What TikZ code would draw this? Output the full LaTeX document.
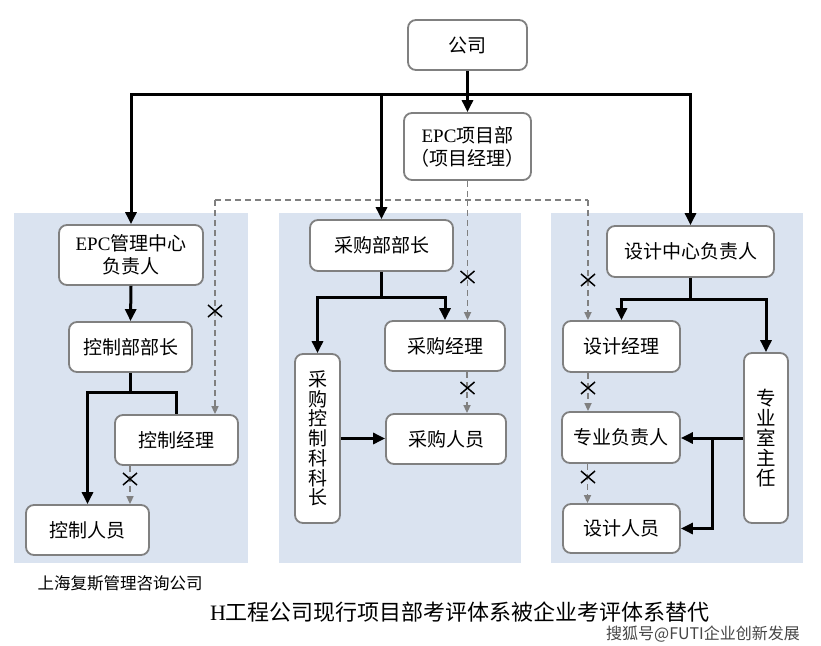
\documentclass[tikz,border=0pt]{standalone}
\usepackage{fontspec}
\setmainfont{Noto Sans CJK SC}
\newfontfamily\lat{Liberation Serif}
\usetikzlibrary{arrows.meta}
\definecolor{panelc}{RGB}{218,227,240}
\definecolor{bord}{RGB}{128,128,128}
\begin{document}
\begin{tikzpicture}[x=1pt,y=-1pt,
  box/.style={draw=bord, line width=1.8pt, rounded corners=8pt, fill=white, inner sep=0pt, align=center, font=\fontsize{19}{23}\selectfont},
  panel/.style={fill=panelc, draw=none},
  ln/.style={line width=3pt},
  arr/.style={line width=3pt, -{Triangle[length=12pt,width=11pt]}},
  dln/.style={draw=bord, line width=1.6pt, dash pattern=on 6pt off 4pt},
  darr/.style={dln, -{Triangle[length=8pt,width=7pt]}, bord},
  xmk/.pic={\draw[line width=1.5pt,black] (-7,-6)--(7,6) (-7,6)--(7,-6);}
]
\useasboundingbox[fill=white] (0,0) rectangle (821,645);
% panels
\fill[panel] (14,213) rectangle (248,563);
\fill[panel] (279,213) rectangle (521,563);
\fill[panel] (551,213) rectangle (803,563);
% nodes
\node[box, minimum width=119pt, minimum height=50pt] (gs) at (467.5,45) {公司};
\node[box, minimum width=127pt, minimum height=67pt] (epc) at (467.5,146.5) {{\lat EPC}项目部\\（项目经理）};
\node[box, minimum width=144pt, minimum height=60pt] (epcm) at (131,255) {{\lat EPC}管理中心\\负责人};
\node[box, minimum width=123pt, minimum height=50pt] (ctlh) at (130.5,347) {控制部部长};
\node[box, minimum width=123pt, minimum height=50pt] (ctlm) at (176.5,440) {控制经理};
\node[box, minimum width=123pt, minimum height=50pt] (ctls) at (87.5,530) {控制人员};
\node[box, minimum width=143pt, minimum height=51pt] (purh) at (381.5,245.5) {采购部部长};
\node[box, minimum width=120pt, minimum height=50pt] (purm) at (445,346) {采购经理};
\node[box, minimum width=120pt, minimum height=50pt] (purs) at (446,439) {采购人员};
\node[box, minimum width=45pt, minimum height=169pt, font=\fontsize{19}{19.7}\selectfont] (purc) at (317.5,438.5) {采\\购\\控\\制\\科\\科\\长};
\node[box, minimum width=167pt, minimum height=51pt] (desh) at (690.5,251.5) {设计中心负责人};
\node[box, minimum width=117pt, minimum height=51pt] (desm) at (621.5,346.5) {设计经理};
\node[box, minimum width=118pt, minimum height=51pt] (desr) at (621,437.5) {专业负责人};
\node[box, minimum width=117pt, minimum height=49pt] (dess) at (621.5,528.5) {设计人员};
\node[box, minimum width=44pt, minimum height=170pt, font=\fontsize{19.5}{19.8}\selectfont] (desd) at (766,438) {专\\业\\室\\主\\任};
% dashed connectors
\coordinate (dj) at (467.5,200);
\coordinate (dl) at (215,200);
\coordinate (dr) at (588,200);
\draw[dln] (epc.south) -- (dj);
\draw[dln] (dl) -- (dr);
\draw[darr] (dj) -- (dj |- purm.north);
\draw[darr] (dl) -- (dl |- ctlm.north);
\draw[darr] (dr) -- (dr |- desm.north);
\draw[darr] ([xshift=-46.5pt]ctlm.south) -- ([xshift=-46.5pt]ctlm.south |- ctls.north);
\draw[darr] ([xshift=22pt]purm.south) -- ([xshift=22pt]purm.south |- purs.north);
\draw[darr] ([xshift=-33.5pt]desm.south) -- ([xshift=-33.5pt]desm.south |- desr.north);
\draw[darr] ([xshift=-33.5pt]desr.south) -- ([xshift=-33.5pt]desr.south |- dess.north);
% X marks
\pic at (215,311) {xmk};
\pic at (130,479) {xmk};
\pic at (467.5,277) {xmk};
\pic at (467.5,388) {xmk};
\pic at (588,280) {xmk};
\pic at (588,388) {xmk};
\pic at (588,477) {xmk};
% solid connectors
\coordinate (bus) at (467.5,94);
\draw[arr] (gs.south) -- (epc.north);
\draw[arr] (bus) -| (epcm.north);
\draw[arr] (bus) -| (purh.north);
\draw[arr] (bus) -| (desh.north);
% panel 1
\draw[arr] (epcm.south) -- (ctlh.north);
\draw[ln] (ctlh.south) -- ++(0,20) coordinate (j1);
\draw[arr] (j1) -| (ctls.north);
\draw[ln] (j1) -| (ctlm.north);
% panel 2
\draw[ln] (purh.south) -- ++(0,26) coordinate (j2);
\draw[arr] (j2) -| (purc.north);
\draw[arr] (j2) -| (purm.north);
\draw[arr] (purc.east) -- (purc.east -| purs.west);
% panel 3
\draw[ln] (desh.south) -- ++(0,22) coordinate (j3);
\draw[arr] (j3) -| (desm.north);
\draw[arr] (j3) -| (desd.north);
\draw[arr] (desd.west) -- (desd.west -| desr.east);
\coordinate (b3) at (712,438);
\draw[arr] (b3) |- (dess.east);
% captions
\node[font=\fontsize{16.5}{18}\selectfont] (co) at (120,583) {上海复斯管理咨询公司};
\node[font=\fontsize{22}{24}\selectfont] (title) at (460,612) {{\lat H}工程公司现行项目部考评体系被企业考评体系替代};
\node[font=\fontsize{16}{18}\selectfont, text={rgb,255:red,70;green,70;blue,70}] (wm) at (703,634) {搜狐号@FUTI企业创新发展};
\end{tikzpicture}
\end{document}
